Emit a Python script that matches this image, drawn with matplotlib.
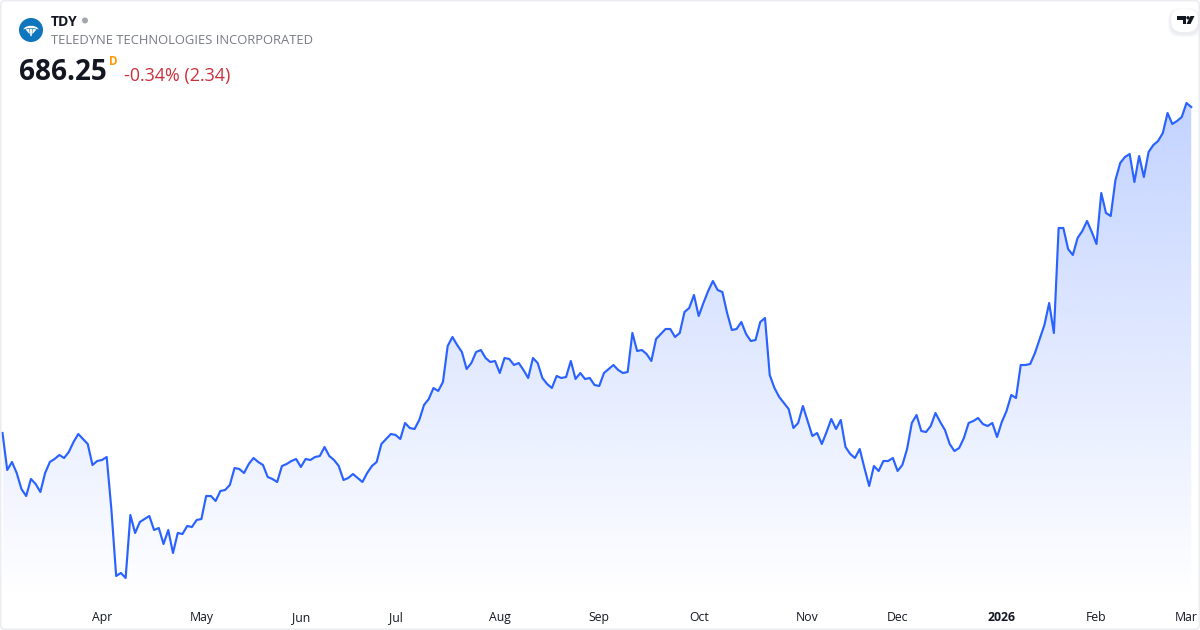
import matplotlib
matplotlib.use("Agg")

import numpy as np
import matplotlib.pyplot as plt
from matplotlib.patches import Circle, FancyBboxPatch, Polygon

plt.rcParams["font.family"] = ["Open Sans", "Noto Sans", "DejaVu Sans"]

# -----------------------------
# DATA (no price axis in the picture, scale anchored on the last close)
# -----------------------------

close = [
    523.25, 504.75, 508.75, 503.25, 495.25, 491.75, 500.25, 497.75, 493.75, 503.25,
    508.75, 510.25, 512.25, 510.75, 513.75, 518.75, 522.75, 520.25, 517.75, 507.25,
    509.25, 509.75, 511.25, 484.75, 451.75, 453.25, 450.75, 482.25, 473.25, 478.75,
    480.25, 481.75, 474.75, 475.75, 467.75, 474.75, 463.25, 473.25, 472.75, 476.75,
    476.25, 479.75, 480.25, 491.75, 491.75, 489.25, 494.25, 494.75, 497.25, 505.75,
    505.25, 503.25, 507.75, 510.75, 508.75, 507.25, 501.25, 500.25, 498.75, 506.75,
    507.75, 509.25, 510.25, 506.25, 510.25, 509.75, 511.25, 511.75, 516.25, 511.75,
    509.75, 506.75, 499.75, 500.75, 502.75, 500.75, 498.75, 503.25, 506.75, 508.75,
    517.75, 520.25, 522.75, 522.25, 520.25, 528.25, 525.75, 525.25, 529.75, 537.25,
    540.25, 545.75, 544.25, 548.75, 566.75, 571.25, 567.25, 563.75, 555.25, 558.25,
    563.75, 564.75, 560.75, 558.75, 559.25, 553.25, 560.75, 560.25, 557.25, 558.25,
    554.75, 550.75, 560.75, 558.25, 550.75, 547.75, 545.75, 551.75, 550.75, 551.25,
    559.25, 550.25, 553.25, 550.25, 550.75, 547.25, 546.75, 553.25, 555.25, 557.25,
    554.75, 553.25, 553.75, 573.25, 564.25, 564.75, 562.75, 559.25, 570.25, 572.75,
    575.25, 575.25, 571.25, 573.25, 583.75, 585.75, 592.25, 581.75, 588.25, 594.25,
    599.25, 594.75, 593.75, 583.25, 574.75, 575.25, 578.75, 572.75, 569.25, 569.75,
    578.75, 580.75, 552.25, 545.75, 541.25, 538.25, 535.25, 525.75, 528.25, 536.75,
    529.25, 521.75, 523.25, 517.75, 523.75, 530.25, 525.25, 529.75, 516.25, 512.75,
    510.75, 515.25, 505.75, 496.75, 506.75, 504.25, 509.25, 509.25, 510.75, 504.25,
    507.25, 515.25, 528.25, 532.25, 524.25, 523.75, 526.75, 533.25, 528.75, 524.75,
    517.75, 514.25, 515.75, 520.75, 528.25, 529.25, 530.75, 527.75, 526.75, 528.25,
    521.25, 528.75, 534.25, 542.25, 540.75, 557.25, 557.25, 557.75, 563.25, 570.25,
    577.25, 588.25, 573.25, 625.75, 625.75, 615.25, 612.25, 620.75, 624.25, 629.25,
    623.75, 617.75, 643.25, 633.25, 631.75, 649.75, 658.25, 661.25, 662.75, 648.75,
    661.75, 651.25, 663.75, 667.25, 669.25, 673.25, 683.25, 677.75, 679.25, 681.25,
    688.25, 686.25,
]

tick_pos = [21, 42, 63, 83, 105, 126, 147, 170, 189, 211, 231, 250]
tick_labels = ["Apr", "May", "Jun", "Jul", "Aug", "Sep", "Oct", "Nov", "Dec", "2026", "Feb", "Mar"]

LINE = "#2962ff"
TEXT = "#131722"
GRAY = "#787b86"

W, H = 1200, 630
PANE_H = 600

days = np.arange(len(close))
close = np.array(close)

fig = plt.figure(figsize=(W / 100, H / 100), dpi=100, facecolor="white")

# -----------------------------
# CHART
# -----------------------------

ax = fig.add_axes([0, (H - PANE_H) / H, 1, PANE_H / H])
ax.set_facecolor("none")
for s in ax.spines.values():
    s.set_visible(False)

ax.set_yticks([])
ax.set_xticks(tick_pos, tick_labels)
ax.tick_params(axis="x", length=0, pad=15, labelsize=8.8, labelcolor=TEXT)
for lab in ax.get_xticklabels():
    lab.set_verticalalignment("baseline")
ax.get_xticklabels()[9].set_fontweight("bold")

# gradient under the line
area = ax.fill_between(days, close, 439.75, color="none", linewidth=0)
rgba = np.zeros((256, 1, 4))
rgba[..., 0] = 41 / 255
rgba[..., 1] = 98 / 255
rgba[..., 2] = 1.0
rgba[..., 3] = np.linspace(0.28, 0.0, 256)[:, None]
im = ax.imshow(
    rgba,
    extent=[0, len(close) - 1, 439.75, close.max()],
    aspect="auto",
    origin="upper",
    interpolation="bilinear",
)
im.set_clip_path(area.get_paths()[0], transform=ax.transData)
ax.set_xlim(-2.5 / 4.736, (W - 2.5) / 4.736)
ax.set_ylim(439.75, 739.75)

ax.plot(days, close, color=LINE, linewidth=1.55, solid_joinstyle="round")

# -----------------------------
# HEADER, LOGOS, FRAME (pixel coordinates)
# -----------------------------

top = fig.add_axes([0, 0, 1, 1], zorder=5)
top.set_xlim(0, W)
top.set_ylim(H, 0)
top.axis("off")
top.patch.set_alpha(0)

top.add_patch(FancyBboxPatch(
    (0.8, 0.8), W - 1.6, H - 1.6,
    boxstyle="round,pad=0,rounding_size=4",
    facecolor="none", edgecolor="#e9ebf0", linewidth=1.0
))

# logo: blue disc with white fan
top.add_patch(Circle((31, 30), 12, facecolor="#0f75bc", edgecolor="none"))
top.add_patch(Polygon(
    [(23, 29.5), (25.5, 27), (29, 25.8), (33, 25.8), (36.5, 27), (39, 29.5), (34.5, 28.3), (27.5, 28.3)],
    closed=True, facecolor="white", edgecolor="none"
))
top.add_patch(Polygon(
    [(25.5, 29.3), (29.3, 29), (29.8, 34), (28.5, 33)],
    closed=True, facecolor="white", edgecolor="none"
))
top.add_patch(Polygon(
    [(30, 29), (32, 29), (31.8, 35.5), (31, 36.5), (30.2, 35.5)],
    closed=True, facecolor="white", edgecolor="none"
))
top.add_patch(Polygon(
    [(36.5, 29.3), (32.7, 29), (32.2, 34), (33.5, 33)],
    closed=True, facecolor="white", edgecolor="none"
))

top.text(51, 21.5, "TDY", fontsize=10, fontweight="bold", color=TEXT, va="center", ha="left")
top.add_patch(Circle((85, 20.5), 3, facecolor="#a3a6af", edgecolor="none"))
top.text(51, 41, "TELEDYNE TECHNOLOGIES INCORPORATED", fontsize=9.35, color=GRAY,
         va="center", ha="left")
top.text(19, 72, "686.25", fontsize=20.1, fontweight="bold", color=TEXT, va="center", ha="left")
top.text(109, 61.5, "D", fontsize=8.5, fontweight="bold", color="#ff9800", va="center", ha="left")
top.text(124, 75.5, "-0.34% (2.34)", fontsize=12.9, color="#cc2f3c", va="center", ha="left")

# tradingview badge with soft shadow
for grow, shade in [(3, 0.25), (2, 0.35), (1, 0.5)]:
    top.add_patch(FancyBboxPatch(
        (1171 - grow, 10 - grow + 1), 27 + 2 * grow, 23 + 2 * grow,
        boxstyle="round,pad=0,rounding_size=12",
        facecolor="#e6e8ed", edgecolor="none", alpha=shade
    ))
top.add_patch(FancyBboxPatch(
    (1171, 9), 27, 23,
    boxstyle="round,pad=0,rounding_size=11",
    facecolor="white", edgecolor="none"
))
top.add_patch(Polygon(
    [(1177, 16), (1186, 16), (1186, 24), (1182.5, 24), (1182.5, 19.5), (1177, 19.5)],
    closed=True, facecolor=TEXT, edgecolor="none"
))
top.add_patch(Circle((1188, 17.8), 1.7, facecolor=TEXT, edgecolor="none"))
top.add_patch(Polygon(
    [(1190.5, 16), (1194.5, 16), (1190.5, 24), (1186.5, 24)],
    closed=True, facecolor=TEXT, edgecolor="none"
))

fig.savefig("out.png", dpi=100, facecolor="white")
plt.close(fig)
